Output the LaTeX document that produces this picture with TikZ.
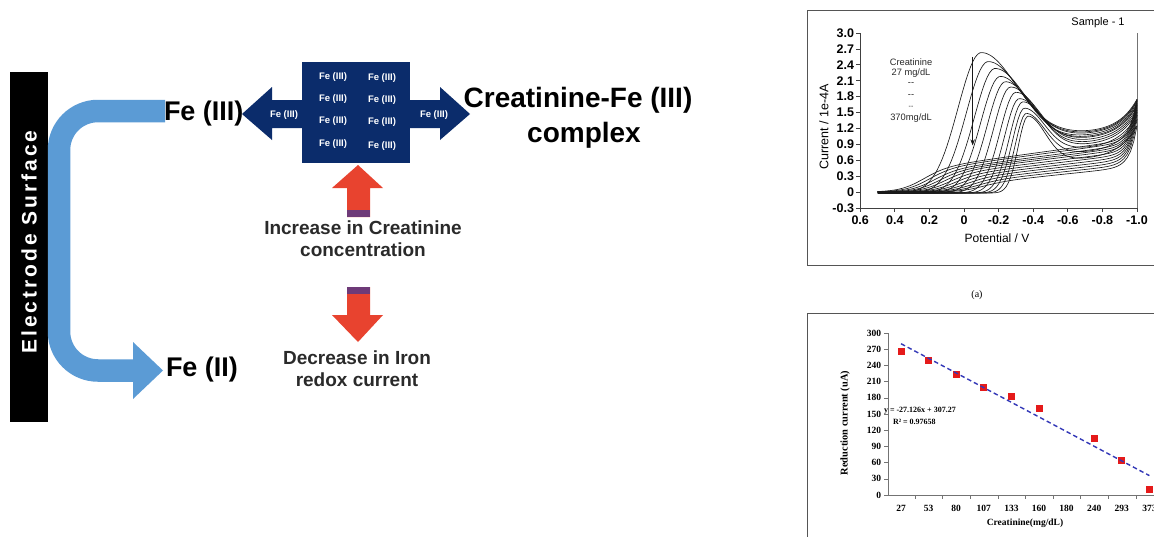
\documentclass[tikz,border=0pt]{standalone}
\usepackage{fontspec}
\setmainfont{Liberation Sans}
\newfontfamily\serifF{Liberation Serif}
\newfontfamily\spacedF[LetterSpace=14]{Liberation Sans}
\usetikzlibrary{arrows.meta}
\definecolor{navy}{HTML}{0B2C6B}
\definecolor{lblue}{HTML}{5B9BD5}
\definecolor{redA}{HTML}{E8432F}
\definecolor{purp}{HTML}{6E3A78}
\definecolor{txtg}{HTML}{2A2A2A}
\definecolor{trend}{HTML}{3338B8}
\definecolor{ptred}{HTML}{E51A1A}
\definecolor{frameg}{HTML}{555555}
\tikzset{
  bigtxt/.style={font=\bfseries\fontsize{27}{27}\selectfont},
  midtxt/.style={font=\bfseries\fontsize{19}{19}\selectfont, text=txtg},
  boxtxt/.style={font=\bfseries\fontsize{9.5}{9.5}\selectfont, text=white},
  cvtick/.style={font=\bfseries\fontsize{12.5}{12.5}\selectfont},
  cvlab/.style={font=\fontsize{12}{12}\selectfont},
  cvnote/.style={font=\fontsize{9.3}{9.3}\selectfont, text=txtg},
  lintick/.style={font=\serifF\bfseries\fontsize{9.5}{9.5}\selectfont},
  lineq/.style={font=\serifF\bfseries\fontsize{8}{8}\selectfont},
  sq/.style={fill=ptred, minimum size=7pt, inner sep=0pt},
  cvline/.style={line width=0.65pt, black!90, line join=round},
}
\begin{document}
\begin{tikzpicture}[x=1pt,y=-1pt, every node/.style={inner sep=0pt, outer sep=0pt}]
\useasboundingbox (0,0) rectangle (1154,536);
\fill[white] (0,0) rectangle (1154,536);

% ---------- electrode bar
\node[fill=black, minimum width=38pt, minimum height=350pt, anchor=north west] (bar) at (10,72) {};
\node[rotate=90, text=white, font=\spacedF\bfseries\fontsize{21}{21}\selectfont] (es) at (29,242) {Electrode Surface};

% ---------- C-shaped light blue arrow
\coordinate (c1) at (165,111);
\coordinate (c2) at (59,111);
\coordinate (c3) at (59,370.5);
\coordinate (c4) at (134,370.5);
\draw[lblue, line width=22.5pt, rounded corners=39pt] (c1) -- (c2) -- (c3) -- (c4);
\coordinate (h1) at (133,342);
\coordinate (h2) at (163,370.5);
\coordinate (h3) at (133,399);
\fill[lblue] (h1) -- (h2) -- (h3) -- cycle;

\node[bigtxt, anchor=west] (fe3) at (164,114) {Fe (III)};
\node[bigtxt, anchor=west] (fe2) at (166,370) {Fe (II)};

% ---------- navy box with arrows
\node[fill=navy, minimum width=108pt, minimum height=101pt, anchor=north west] (box) at (302,62) {};
\fill[navy] (302,100) -- (272,100) -- (272,87) -- (242,114) -- (272,140) -- (272,128) -- (302,128) -- cycle;
\fill[navy] (410,100) -- (440,100) -- (440,87) -- (470,114) -- (440,140) -- (440,128) -- (410,128) -- cycle;
\node[boxtxt] (b1) at (333,77) {Fe (III)};
\node[boxtxt] (b2) at (382,78) {Fe (III)};
\node[boxtxt] (b3) at (333,99) {Fe (III)};
\node[boxtxt] (b4) at (382,100) {Fe (III)};
\node[boxtxt] (b5) at (333,121) {Fe (III)};
\node[boxtxt] (b6) at (382,122) {Fe (III)};
\node[boxtxt] (b7) at (333,144) {Fe (III)};
\node[boxtxt] (b8) at (382,146) {Fe (III)};
\node[boxtxt] (bl) at (284,115) {Fe (III)};
\node[boxtxt] (br) at (434,115) {Fe (III)};

\node[bigtxt, font=\bfseries\fontsize{28}{28}\selectfont] (cfe) at (578,100) {Creatinine-Fe (III)};
\node[bigtxt, font=\bfseries\fontsize{28}{28}\selectfont] (cplx) at (584,135) {complex};

% ---------- red arrows
\fill[redA] (358,165) -- (383,188) -- (370,188) -- (370,217) -- (347,217) -- (347,188) -- (332,188) -- cycle;
\fill[purp] (347,210) rectangle (370,217);
\fill[redA] (347,287) -- (370,287) -- (370,315) -- (383,315) -- (358,342) -- (332,315) -- (347,315) -- cycle;
\fill[purp] (347,287) rectangle (370,294);
\node[midtxt] (inc1) at (363,228) {Increase in Creatinine};
\node[midtxt] (inc2) at (363,250) {concentration};
\node[midtxt] (dec1) at (357,358) {Decrease in Iron};
\node[midtxt] (dec2) at (357,380) {redox current};

% ---------- top plot (CV)
\draw[frameg, line width=0.9pt] (1160,10) -- (807,10) -- (807,265) -- (1160,265);
\draw[black!75, line width=0.7pt] (860,33) -- (860,208) -- (1137,208);
\draw[black!55, line width=0.6pt] (1137,208) -- (1137,33);
\foreach \v/\l in {3.0/3.0,2.7/2.7,2.4/2.4,2.1/2.1,1.8/1.8,1.5/1.5,1.2/1.2,0.9/0.9,0.6/0.6,0.3/0.3,0/0,-0.3/-0.3}{
  \draw[black!75, line width=0.7pt] (856,{192-53*(\v)}) -- (860,{192-53*(\v)});
  \node[cvtick, anchor=east] at (854,{192-53*(\v)}) {\l};
}
\foreach \e/\l in {0.6/0.6,0.4/0.4,0.2/0.2,0/0,-0.2/-0.2,-0.4/-0.4,-0.6/-0.6,-0.8/-0.8,-1.0/-1.0}{
  \draw[black!75, line width=0.7pt] ({964-173*(\e)},208) -- ({964-173*(\e)},212);
  \node[cvtick] at ({964-173*(\e)},220) {\l};
}
\node[cvlab] (pot) at (997,238) {Potential / V};
\node[cvlab, rotate=90, font=\fontsize{12.5}{12.5}\selectfont] (cur) at (824,127) {Current / 1e-4A};
\node[font=\fontsize{11}{11}\selectfont] (samp) at (1098,23) {Sample - 1};
\node[cvnote] (n1) at (911,62) {Creatinine};
\node[cvnote] (n2) at (911,73) {27 mg/dL};
\node[cvnote] (n3) at (911,84) {{-}{-}};
\node[cvnote] (n4) at (911,96) {{-}{-}};
\node[cvnote, font=\fontsize{7}{7}\selectfont] (n5) at (911,107) {{-}{-}};
\node[cvnote] (n6) at (911,118) {370mg/dL};

\begin{scope}[xshift=964pt, yshift=-192pt, x=-173pt, y=53pt]
\foreach \ep/\ip/\w/\d/\L/\p/\s/\eo in {
 -0.10/2.65/0.19/0.28/1.12/0.55/0.45/0.25,
 -0.14/2.48/0.18/0.26/1.10/0.52/0.44/0.22,
 -0.18/2.35/0.17/0.24/1.08/0.48/0.43/0.19,
 -0.21/2.20/0.16/0.22/1.05/0.45/0.42/0.16,
 -0.24/2.10/0.15/0.21/1.02/0.42/0.41/0.13,
 -0.27/2.00/0.14/0.20/1.00/0.38/0.40/0.10,
 -0.30/1.90/0.13/0.19/0.96/0.34/0.39/0.07,
 -0.32/1.78/0.12/0.18/0.92/0.30/0.38/0.04,
 -0.34/1.72/0.11/0.17/0.88/0.26/0.37/0.01,
 -0.35/1.60/0.10/0.16/0.82/0.22/0.36/-0.02,
 -0.36/1.50/0.09/0.15/0.74/0.18/0.35/-0.05,
 -0.37/1.45/0.08/0.14/0.62/0.14/0.34/-0.08}{
  \draw[cvline] plot[domain=-1:0.5, samples=110]
    (\x, {-0.02 + ifthenelse((\x)>(\ep),
        (\ip)*exp(-min(((\x)-(\ep))*((\x)-(\ep))/((\w)*(\w)),9)),
        (\L)+((\ip)-(\L))*exp(-min(((\x)-(\ep))*((\x)-(\ep))/((\d)*(\d)),9)))
        + 0.65*exp(max((-1-(\x))/0.11,-9))});
  \draw[cvline] plot[domain=-1:0.5, samples=80]
    (\x, {((\p)-(\s)*(\x))/(1+exp(max(min(((\x)-(\eo))/0.07,9),-9)))
        + ((\L)+0.63-(\p)-(\s))*exp(max((-1-(\x))/0.04,-9))});
}
\coordinate (a1) at (-0.05,2.55);
\coordinate (a2) at (-0.05,0.88);
\draw[cvline, -{Stealth[length=6pt,width=4.5pt]}] (a1) -- (a2);
\end{scope}

\node[font=\serifF\fontsize{10}{10}\selectfont] (lab) at (977,295) {(a)};

% ---------- bottom plot (linear fit)
\draw[frameg, line width=0.9pt] (807,545) -- (807,313) -- (1160,313);
\draw[black!55, line width=0.6pt] (888,333) -- (888,495) -- (1160,495);
\foreach \v in {0,30,...,300}{
  \draw[black!55, line width=0.6pt] (884,{495-0.54*\v}) -- (888,{495-0.54*\v});
  \node[lintick, anchor=east] at (881,{495-0.54*\v}) {\v};
}
\foreach \i in {1,...,9}{
  \draw[black!55, line width=0.6pt] ({887.4+27.6*\i},495) -- ({887.4+27.6*\i},499);
}
\foreach \l [count=\i] in {27,53,80,107,133,160,180,240,293,373}{
  \node[lintick] at ({873.4+27.6*\i},508) {\l};
}
\node[lintick] (xt) at (1025,523) {Creatinine(mg/dL)};
\node[lintick, rotate=90, font=\serifF\bfseries\fontsize{10.4}{10.4}\selectfont] (yt) at (845,423) {Reduction current (uA)};
\foreach \i/\v in {1/266,2/249,3/224,4/199,5/183,6/160,8/104,9/64,10/10}{
  \node[sq] at ({873.4+27.6*\i},{495-0.54*\v}) {};
}
\coordinate (tr1) at (901,343.7);
\coordinate (tr2) at (1149.4,475.6);
\draw[trend, line width=1.4pt, dash pattern=on 4.5pt off 3pt] (tr1) -- (tr2);
\node[lineq, anchor=west] (eq1) at (884,411) {y = -27.126x + 307.27};
\node[lineq, anchor=west] (eq2) at (893,422) {R² = 0.97658};
\end{tikzpicture}
\end{document}
